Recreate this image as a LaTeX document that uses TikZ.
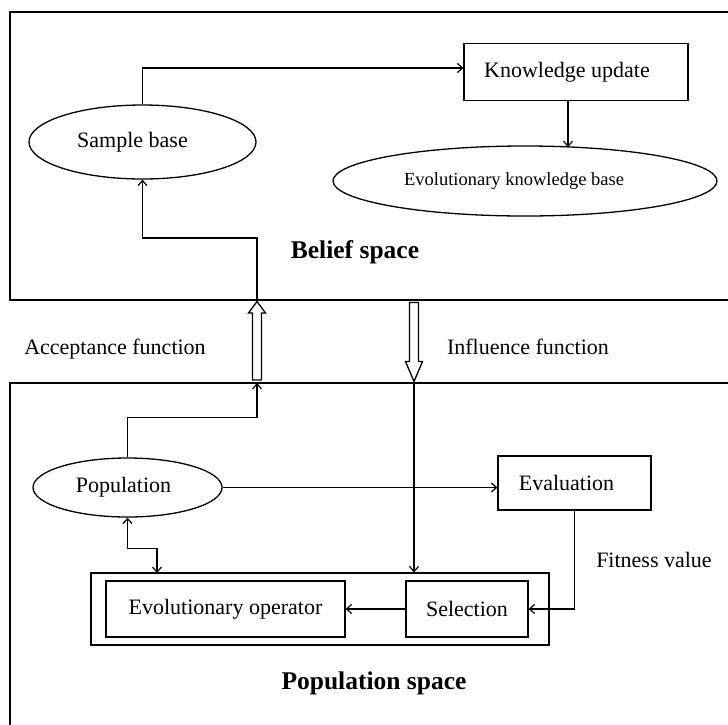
\documentclass[tikz,border=0pt]{standalone}
\usepackage{fontspec}
\setmainfont{Liberation Serif}
\usetikzlibrary{shapes.geometric,arrows.meta}
\begin{document}
\begin{tikzpicture}[x=1pt,y=-1pt,
  txt/.style={font=\fontsize{22}{26}\selectfont},
  ttl/.style={font=\fontsize{25.5}{30}\selectfont\bfseries},
  ell/.style={draw,ellipse,line width=1.3pt,inner sep=0pt,font=\fontsize{22}{26}\selectfont},
  rbox/.style={draw,rectangle,line width=1.3pt,inner sep=0pt,font=\fontsize{22}{26}\selectfont},
  space/.style={line width=2pt},
  conn/.style={line width=1.3pt},
  arr/.style={conn,-{Straight Barb[length=5pt,width=9pt,line width=1.2pt]}},
  arrb/.style={conn,{Straight Barb[length=5pt,width=9pt,line width=1.2pt]}-{Straight Barb[length=5pt,width=9pt,line width=1.2pt]}},
  hollow/.style={draw,fill=white,line width=1.3pt,line join=miter}]
\useasboundingbox (0,0) rectangle (728,724);
% spaces
\draw[space] (735,12) -- (10,12) -- (10,300) -- (735,300);
\draw[space] (735,383) -- (10,383) -- (10,730);
% nodes
\node[ell,minimum width=227pt,minimum height=74pt] (sb) at (142.5,142) {Sample base\hspace*{20pt}};
\node[rbox,minimum width=224pt,minimum height=57pt] (ku) at (576,72) {Knowledge update\hspace*{18pt}};
\node[ell,minimum width=384pt,minimum height=70pt,font=\fontsize{18.5}{22}\selectfont] (ekb) at (525,181) {Evolutionary knowledge base\hspace*{22pt}};
\node[ell,minimum width=189pt,minimum height=59pt] (pop) at (127.5,487.5) {Population\hspace*{8pt}};
\node[rbox,minimum width=153pt,minimum height=54pt] (ev) at (574.5,483) {Evaluation\hspace*{16pt}};
\node[rbox,minimum width=458pt,minimum height=72pt] (outer) at (320,609) {};
\node[rbox,minimum width=239pt,minimum height=56pt] (eo) at (225.5,609) {Evolutionary operator};
\node[rbox,minimum width=122pt,minimum height=56pt] (sel) at (467,609) {Selection};
% texts
\node[ttl] (bs) at (355,252) {Belief space};
\node[ttl] (ps) at (374,683) {Population space};
\node[txt] (af) at (115,349) {Acceptance function};
\node[txt] (inf) at (528,347) {Influence function};
\node[txt] (fv) at (654,560) {Fitness value};
% coordinates
\coordinate (acctop) at (257,300);
\coordinate (accbot) at (257,383);
\coordinate (inftop) at (414,300);
\coordinate (infbot) at (414,383);
\coordinate (opin) at (157,573);
% hollow arrows
\draw[hollow] (252.5,380) -- (252.5,313) -- (248.5,313) -- (257,301.5) -- (265.5,313) -- (261.5,313) -- (261.5,380) -- cycle;
\draw[hollow] (409.5,302.5) -- (409.5,361.5) -- (405.5,361.5) -- (414,381.5) -- (422.5,361.5) -- (418.5,361.5) -- (418.5,302.5) -- cycle;
% connectors
\draw[arr] (sb.north) |- ([yshift=4pt]ku.west);
\draw[arr] ([xshift=-8pt]ku.south) -- ++(0,46);
\draw[arr] (acctop) -- ++(0,-62) -| (sb.south);
\draw[arr] (pop.north) -- ++(0,-40) -| (accbot);
\draw[arr] (pop.east) -- (pop.east -| ev.west);
\draw[arr] (ev.south) |- (sel.east);
\draw[arr] (sel.west) -- (eo.east);
\draw[arr] (infbot) -- (infbot |- outer.north);
\draw[arrb] (pop.south) -- ++(0,31) -| (opin);
\end{tikzpicture}
\end{document}
